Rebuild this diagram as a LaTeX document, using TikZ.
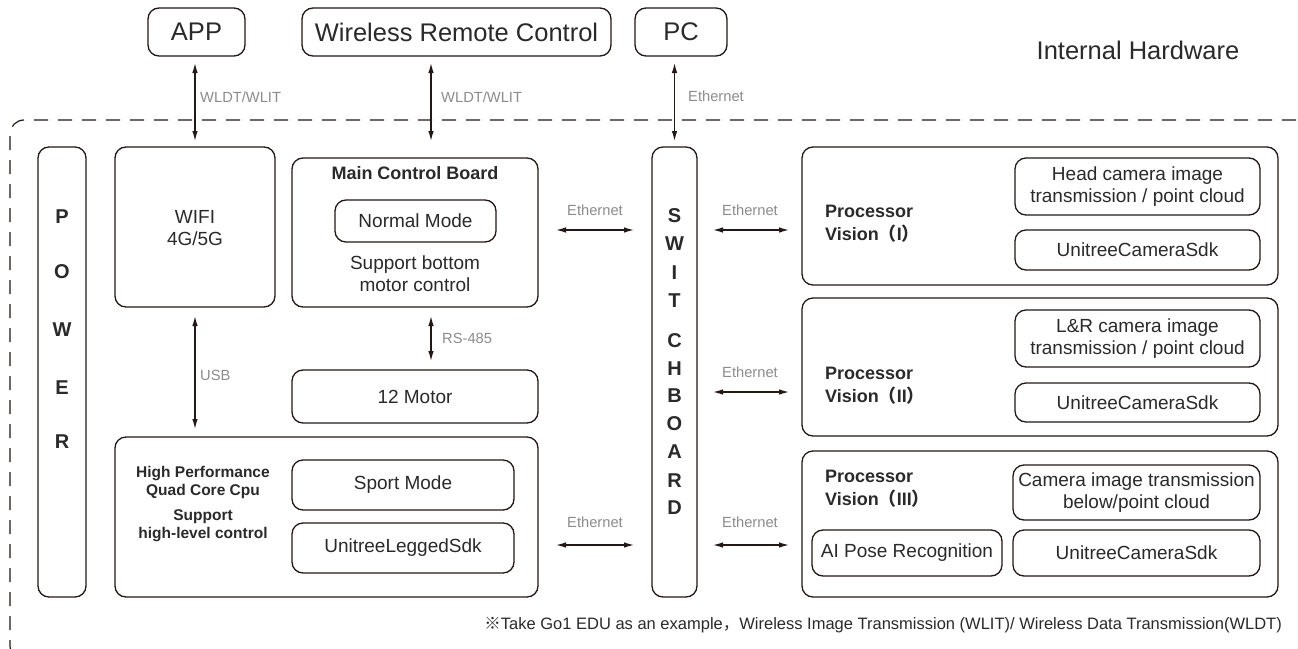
\documentclass[tikz,border=0pt]{standalone}
\usepackage{fontspec}
\setmainfont{Liberation Sans}
\newfontfamily\cjk{Noto Sans CJK SC}
\usetikzlibrary{arrows.meta,calc}
\definecolor{linec}{HTML}{231815}
\definecolor{txtc}{HTML}{2A2A2A}
\definecolor{lblc}{HTML}{8C8C8C}
\begin{document}
\begin{tikzpicture}[x=1pt,y=-1pt,
  box/.style={draw=linec, line width=1.3pt, rounded corners=11pt, inner sep=0pt, outer sep=0pt, align=center, text=txtc},
  biarrow/.style={draw=linec, line width=1.8pt, {Latex[length=11pt,width=5.5pt]}-{Latex[length=11pt,width=5.5pt]}},
  lbl/.style={text=lblc, font=\fontsize{14.7}{17}\selectfont, inner sep=0pt},
  big/.style={font=\fontsize{25.5}{30}\selectfont},
  mid/.style={font=\fontsize{19}{22}\selectfont},
  bld/.style={font=\fontsize{15.5}{18}\selectfont\bfseries, text=txtc, inner sep=0pt, align=center},
  letter/.style={font=\fontsize{20}{22}\selectfont\bfseries, text=txtc, inner sep=0pt}
]
\useasboundingbox (0,0) rectangle (1298,648);
\clip (0,0) rectangle (1298,648);
\fill[white] (0,0) rectangle (1298,648);

% outer dashed border
\draw[draw=linec, line width=1.2pt, dash pattern=on 14pt off 10pt, rounded corners=14pt] (1320,120) -- (10,120) -- (10,660) -- (1320,660);

% external nodes
\node[box, big, minimum width=97pt, minimum height=48pt] (app) at (196.5,32) {APP};
\node[box, big, minimum width=309pt, minimum height=48pt] (wrc) at (456.5,32) {Wireless Remote Control};
\node[box, big, minimum width=92pt, minimum height=48pt] (pc) at (681,32) {PC};
\node[font=\fontsize{25.5}{30}\selectfont, text=txtc, inner sep=0pt] (ih) at (1138,50) {Internal Hardware};

% power
\node[box, minimum width=48pt, minimum height=450pt] (power) at (62,372) {};
\foreach \c/\y [count=\i] in {P/217,O/272,W/330,E/388,R/442}
  \node[letter] (pw\i) at (62,\y) {\c};

% wifi
\node[box, minimum width=160pt, minimum height=160pt] (wifi) at (195,227) {};
\node[mid, text=txtc, align=center, inner sep=0pt] (wifit) at (195,228) {WIFI\\4G/5G};

% main control board
\node[box, minimum width=246pt, minimum height=149pt] (mcb) at (415,232.5) {};
\node[bld, font=\fontsize{18}{22}\selectfont\bfseries] (mcbt) at (415,173) {Main Control Board};
\node[box, mid, minimum width=161pt, minimum height=42pt] (normal) at (415.5,221) {Normal Mode};
\node[mid, text=txtc, align=center, inner sep=0pt] (mcbs) at (415,274) {Support bottom\\motor control};

% motor
\node[box, mid, minimum width=246pt, minimum height=53pt] (motor) at (415,396.5) {12 Motor};

% cpu
\node[box, minimum width=423pt, minimum height=160pt] (cpu) at (326.5,517) {};
\node[bld] (cpua) at (203,482) {High Performance\\Quad Core Cpu};
\node[bld] (cpub) at (203,526) {Support\\high-level control};
\node[box, mid, minimum width=222pt, minimum height=50pt] (sport) at (403,485) {Sport Mode};
\node[box, mid, minimum width=222pt, minimum height=50pt] (legged) at (403,548) {UnitreeLeggedSdk};

% switchboard
\node[box, minimum width=45pt, minimum height=450pt] (switch) at (674.5,372) {};
\foreach \c/\y [count=\i] in {S/216,W/244,I/273,T/301,C/341,H/369,B/396,O/424,A/452,R/481,D/508}
  \node[letter] (sw\i) at (674.5,\y) {\c};

% vision boxes
\node[box, minimum width=476pt, minimum height=138pt] (v1) at (1040,216) {};
\node[bld, font=\fontsize{18}{23}\selectfont\bfseries, align=left, anchor=west] (v1t) at (825,224) {Processor\\Vision{\cjk （}I{\cjk ）}};
\node[box, mid, minimum width=245pt, minimum height=57pt] (head) at (1137.5,186.5) {Head camera image\\transmission / point cloud};
\node[box, mid, minimum width=245pt, minimum height=40pt] (sdk1) at (1137.5,250) {UnitreeCameraSdk};

\node[box, minimum width=476pt, minimum height=138pt] (v2) at (1040,367) {};
\node[bld, font=\fontsize{18}{23}\selectfont\bfseries, align=left, anchor=west] (v2t) at (825,386) {Processor\\Vision{\cjk （}II{\cjk ）}};
\node[box, mid, minimum width=245pt, minimum height=57pt] (lr) at (1137.5,338.5) {L\&R camera image\\transmission / point cloud};
\node[box, mid, minimum width=245pt, minimum height=39pt] (sdk2) at (1137.5,402.5) {UnitreeCameraSdk};

\node[box, minimum width=476pt, minimum height=146pt] (v3) at (1040,524) {};
\node[bld, font=\fontsize{18}{23}\selectfont\bfseries, align=left, anchor=west] (v3t) at (825,489) {Processor\\Vision{\cjk （}III{\cjk ）}};
\node[box, mid, minimum width=247pt, minimum height=55pt] (cam3) at (1136.5,492.5) {Camera image transmission\\below/point cloud};
\node[box, mid, minimum width=190pt, minimum height=46pt] (ai) at (907,553) {AI Pose Recognition};
\node[box, mid, minimum width=247pt, minimum height=46pt] (sdk3) at (1136.5,553) {UnitreeCameraSdk};

% footnote
\node[text=txtc, font=\fontsize{16.5}{18}\selectfont, anchor=east, inner sep=0pt] (note) at (1282,625) {{\cjk ※}Take Go1 EDU as an example{\cjk ，}Wireless Image Transmission (WLIT)/ Wireless Data Transmission(WLDT)};

% connectors
\draw[biarrow, shorten <=6pt, shorten >=5pt] (wifi.north |- app.south) -- (wifi.north);
\node[lbl, anchor=west] (l1) at (200,97) {WLDT/WLIT};
\draw[biarrow, shorten <=6pt, shorten >=16pt] ([xshift=16pt]mcb.north |- wrc.south) -- ([xshift=16pt]mcb.north);
\node[lbl, anchor=west] (l2) at (441,97) {WLDT/WLIT};
\draw[biarrow, shorten <=6pt, shorten >=5pt] (switch.north |- pc.south) -- (switch.north);
\node[lbl, anchor=west] (l3) at (688,96) {Ethernet};

\draw[biarrow, shorten <=8pt, shorten >=7pt] (wifi.south) -- (wifi.south |- cpu.north);
\node[lbl, anchor=west] (l4) at (200,375) {USB};
\draw[biarrow, shorten <=8pt, shorten >=8pt] ([xshift=16pt]mcb.south) -- ([xshift=16pt]mcb.south |- motor.north);
\node[lbl, anchor=west] (l5) at (442,338) {RS-485};

\draw[biarrow, shorten <=17pt, shorten >=17pt] ([yshift=2.5pt]mcb.east) -- ([yshift=2.5pt]mcb.east -| switch.west);
\node[lbl] (l6) at (595,210) {Ethernet};
\draw[biarrow, shorten <=17pt, shorten >=17pt] ([yshift=3pt]legged.east -| cpu.east) -- ([yshift=3pt]legged.east -| switch.west);
\node[lbl] (l7) at (595,522) {Ethernet};

\draw[biarrow, shorten <=15pt, shorten >=12pt] ([yshift=-14pt]v1.west -| switch.east) -- ([yshift=-14pt]v1.west);
\node[lbl] (l8) at (750,210) {Ethernet};
\draw[biarrow, shorten <=15pt, shorten >=12pt] ([yshift=-25pt]v2.west -| switch.east) -- ([yshift=-25pt]v2.west);
\node[lbl] (l9) at (750,372) {Ethernet};
\draw[biarrow, shorten <=15pt, shorten >=12pt] ([yshift=-21pt]v3.west -| switch.east) -- ([yshift=-21pt]v3.west);
\node[lbl] (l10) at (750,522) {Ethernet};
\end{tikzpicture}
\end{document}
